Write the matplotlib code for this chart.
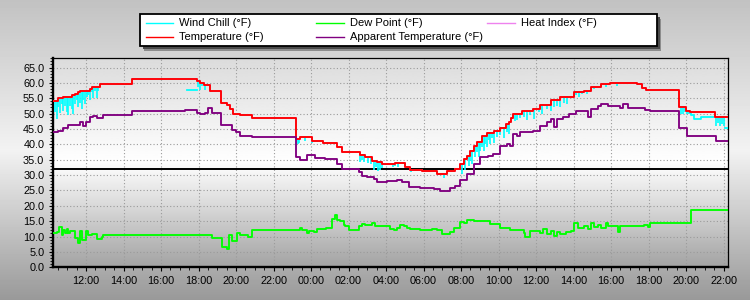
import numpy as np
import matplotlib
matplotlib.use("Agg")
import matplotlib.pyplot as plt
from matplotlib.lines import Line2D
from matplotlib.patches import Rectangle
from matplotlib.ticker import MultipleLocator, FuncFormatter

plt.rcParams['font.family'] = ['Liberation Sans', 'DejaVu Sans']

# time axis: decimal hours since midnight of day one (24+ = next day)
t_start, t_end = 10.25, 46.25

# Temperature (°F), one reading per step
temp_t = [10.25, 10.52, 10.77, 11.24, 11.41, 11.59, 11.68, 12.21, 12.30, 12.75,
          14.47, 17.91, 18.08, 18.30, 18.62, 19.20, 19.51, 19.68, 19.86, 20.22,
          20.84, 23.21, 23.42, 24.04, 24.66, 25.38, 25.64, 26.62, 26.89, 27.25,
          27.51, 27.78, 28.49, 29.02, 29.29, 29.91, 30.71, 31.25, 31.69, 31.96,
          32.14, 32.32, 32.49, 32.67, 32.85, 33.12, 33.38, 33.74, 34.10, 34.37,
          34.53, 34.66, 34.79, 35.26, 35.86, 36.23, 36.77, 37.30, 38.00, 38.53,
          38.91, 39.44, 39.96, 41.39, 41.66, 41.87, 43.61, 44.02, 44.20, 45.53]
temp_v = [54.0, 55.0, 55.3, 55.9, 56.4, 57.0, 57.5, 58.1, 58.8, 59.7,
          61.4, 60.6, 60.0, 59.4, 57.5, 53.5, 52.9, 51.6, 49.9, 49.4,
          48.6, 41.8, 42.5, 41.2, 40.5, 39.0, 37.4, 36.5, 35.8, 34.7,
          34.1, 33.6, 33.8, 32.5, 31.7, 31.2, 30.5, 31.2, 32.0, 33.6,
          35.2, 36.3, 38.0, 39.6, 40.9, 42.8, 43.6, 44.5, 45.2, 46.5,
          47.2, 48.5, 49.9, 51.0, 51.6, 52.9, 54.3, 55.4, 57.0, 57.5,
          58.6, 59.7, 60.0, 59.7, 58.4, 57.8, 52.3, 51.0, 50.6, 48.8]

# Heat index equals the temperature at these temperatures
heat_t = temp_t
heat_v = temp_v

# Apparent temperature (°F)
app_t = [10.25, 10.51, 10.77, 11.04, 11.68, 11.84, 12.00, 12.21, 12.37, 12.59,
         12.91, 14.47, 17.28, 17.91, 18.08, 18.35, 18.51, 18.72, 19.20, 19.79,
         20.00, 20.22, 20.86, 23.21, 23.42, 23.78, 24.22, 24.76, 25.38, 25.64,
         26.53, 26.71, 26.98, 27.33, 27.51, 28.05, 28.58, 28.85, 29.20, 29.83,
         30.54, 30.90, 31.43, 31.70, 31.96, 32.32, 32.67, 33.03, 33.46, 33.72,
         34.10, 34.47, 34.63, 34.79, 35.00, 35.15, 35.86, 36.23, 36.60, 36.77,
         36.93, 37.09, 37.46, 37.73, 38.11, 38.75, 38.91, 39.28, 39.44, 39.82,
         40.50, 40.66, 40.88, 41.83, 42.10, 43.61, 44.06, 45.57]
app_v = [43.9, 44.5, 45.2, 46.3, 47.2, 46.1, 47.4, 48.8, 49.2, 48.6,
         49.6, 50.8, 51.2, 50.3, 50.0, 50.3, 51.8, 50.3, 46.4, 44.7,
         43.9, 42.8, 42.5, 35.8, 34.9, 36.5, 35.6, 35.2, 33.6, 32.0,
         30.9, 29.8, 29.4, 28.7, 27.8, 28.1, 28.4, 27.6, 26.2, 25.8,
         25.4, 24.9, 25.8, 26.5, 28.4, 30.2, 33.6, 35.8, 36.3, 36.9,
         39.6, 40.1, 39.6, 43.4, 42.6, 44.0, 44.5, 46.1, 47.2, 48.3,
         45.6, 48.3, 48.8, 49.9, 51.0, 48.8, 51.6, 52.5, 53.2, 52.5,
         51.8, 53.2, 51.9, 51.3, 50.9, 45.4, 42.6, 41.0]

# Dew point (°F)
dew_t = [10.25, 10.45, 10.57, 10.70, 10.78, 10.87, 10.96, 11.05, 11.15, 11.41,
         11.59, 11.68, 11.77, 12.00, 12.12, 12.30, 12.57, 12.84, 12.92, 18.70,
         19.24, 19.51, 19.60, 19.78, 20.05, 20.22, 20.66, 20.84, 23.42, 23.51,
         23.78, 23.87, 24.14, 24.31, 24.58, 24.81, 25.11, 25.25, 25.38, 25.55,
         25.73, 25.82, 26.00, 26.53, 26.71, 26.89, 27.25, 27.42, 27.51, 28.22,
         28.40, 28.58, 28.76, 28.94, 29.12, 29.29, 29.47, 29.83, 30.45, 30.71,
         30.98, 31.43, 31.60, 31.96, 32.14, 32.32, 32.67, 33.56, 34.10, 34.63,
         35.34, 35.43, 35.70, 36.23, 36.39, 36.60, 36.77, 36.93, 37.14, 37.30,
         37.57, 37.84, 38.00, 38.21, 38.53, 38.75, 38.91, 39.07, 39.28, 39.44,
         39.71, 39.82, 40.35, 40.46, 41.04, 41.74, 41.95, 42.06, 44.24]
dew_v = [11.2, 11.5, 13.1, 10.4, 12.0, 11.0, 12.3, 11.2, 11.8, 9.6,
         8.0, 11.8, 8.9, 11.8, 10.5, 10.8, 9.2, 9.9, 10.4, 9.6,
         6.7, 6.1, 10.4, 8.5, 11.3, 10.6, 10.0, 12.0, 12.9, 12.0,
         11.3, 11.8, 11.5, 12.3, 12.6, 12.7, 15.6, 16.9, 15.4, 15.0,
         13.8, 13.3, 12.0, 13.3, 14.2, 13.8, 14.4, 13.6, 13.3, 12.6,
         12.1, 12.9, 13.9, 13.6, 12.9, 12.3, 12.6, 12.0, 12.3, 12.0,
         10.9, 11.4, 12.7, 14.9, 14.5, 15.4, 15.2, 14.2, 12.7, 12.2,
         11.3, 10.0, 11.7, 11.2, 12.4, 10.8, 11.9, 10.2, 11.4, 10.7,
         11.5, 11.9, 14.5, 12.8, 13.4, 12.5, 14.5, 13.0, 13.8, 12.9,
         14.5, 13.4, 11.6, 13.6, 13.4, 13.9, 13.2, 14.3, 18.6]

# Wind chill: single gusty readings below the temperature
chill_t = [10.34, 10.44, 10.52, 10.61, 10.70, 10.79, 10.88, 10.97, 11.05, 11.14,
           11.24, 11.32, 11.41, 11.50, 11.59, 11.68, 11.77, 11.86, 11.95, 12.04,
           12.12, 12.21, 12.30, 12.39, 12.48, 12.57, 12.66, 17.99, 18.08, 18.17,
           18.35, 23.28, 23.36, 23.68, 24.05, 26.61, 26.72, 26.82, 27.03, 27.19,
           27.35, 27.46, 27.56, 27.67, 27.77, 28.36, 28.46, 28.62, 29.31, 31.07,
           32.05, 32.23, 32.40, 32.49, 32.58, 32.76, 32.85, 32.94, 33.03, 33.12,
           33.21, 33.30, 33.38, 33.47, 33.56, 33.65, 33.74, 33.92, 34.10, 34.28,
           34.45, 34.54, 34.90, 34.99, 35.16, 35.34, 35.52, 35.70, 35.88, 36.15,
           36.33, 36.60, 36.77, 36.94, 37.12, 37.30, 37.48, 37.66, 38.11, 38.28,
           38.46, 38.73, 39.08, 39.71, 40.33, 40.50, 43.72, 43.82, 43.93, 45.62,
           45.72, 45.83, 45.94, 46.04]
chill_v = [50.5, 48.3, 52.0, 50.3, 53.0, 51.0, 52.6, 50.5, 49.4, 52.5,
           51.5, 50.0, 53.0, 54.5, 52.0, 53.5, 51.6, 54.5, 53.2, 55.5,
           56.0, 54.5, 57.0, 55.0, 57.5, 55.0, 57.5, 58.6, 57.8, 59.0,
           57.8, 40.1, 40.5, 41.0, 40.6, 34.3, 34.8, 34.1, 34.0, 33.5,
           31.6, 32.5, 31.4, 31.8, 32.2, 32.5, 32.8, 32.5, 30.9, 29.2,
           30.3, 31.5, 33.0, 34.5, 33.5, 36.0, 37.5, 36.0, 38.0, 39.0,
           38.0, 40.0, 39.0, 41.5, 40.0, 42.0, 40.5, 42.5, 43.0, 42.0,
           44.0, 43.5, 47.5, 48.0, 48.5, 49.0, 48.0, 49.5, 48.3, 50.5,
           50.0, 51.5, 51.0, 52.0, 52.5, 52.0, 53.5, 53.0, 56.0, 55.5,
           56.5, 56.3, 58.0, 58.8, 59.0, 59.5, 50.0, 49.9, 50.5, 46.1,
           47.0, 46.1, 46.5, 46.1]
# Wind chill stretches that stay below the temperature
chill_flat_t = [17.39, 17.92, np.nan, 44.06, 44.24, 44.42, 44.77, 45.53, np.nan, 46.10, 46.25]
chill_flat_v = [57.8, 57.8, np.nan, 50.2, 49.5, 48.3, 49.0, 49.0, np.nan, 45.4, 45.4]

freezing = 32.0

labels = ["Wind Chill (°F)", "Dew Point (°F)", "Heat Index (°F)",
          "Temperature (°F)", "Apparent Temperature (°F)"]
colors = ["#00ffff", "#00ff00", "#ee82ee", "#ff0000", "#800080"]

W, H = 750, 300
fig = plt.figure(figsize=(W / 100, H / 100), dpi=100)

# figure background gradient
bg = fig.add_axes([0, 0, 1, 1], zorder=-10)
rows = np.linspace(0, 1, 300)
bg.imshow(np.interp(rows, [0, 0.5, 1], [0.76, 0.95, 0.60])[:, None], cmap='gray',
          vmin=0, vmax=1, aspect='auto', extent=[0, 1, 0, 1])
bg.axis('off')

ax = fig.add_axes([53.3 / W, 1 - 267.3 / H, (728.3 - 53.3) / W, (267.3 - 58.3) / H])
ymin, ymax = 0, 68
ax.imshow(np.interp(rows, [0, 0.5, 1], [0.86, 1.0, 0.64])[:, None], cmap='gray',
          vmin=0, vmax=1, aspect='auto', extent=[t_start, t_end, ymin, ymax], zorder=0)
ax.set_xlim(t_start, t_end)
ax.set_ylim(ymin, ymax)
ax.set_facecolor('none')


def steps(t, v):
    return np.append(t, t_end), np.append(v, v[-1])


def temp_at(t):
    idx = np.searchsorted(temp_t, t, side='right') - 1
    return np.array(temp_v)[idx]


ax.axhline(freezing, color='black', lw=1.4, zorder=2.5)

# wind chill
ax.vlines(chill_t, chill_v, temp_at(chill_t), color=colors[0], lw=1.2, zorder=3)
ax.step(chill_flat_t, chill_flat_v, where='post', color=colors[0], lw=1.3, zorder=3)
# dew point
ax.step(*steps(dew_t, dew_v), where='post', color=colors[1], lw=1.35, zorder=4)
# heat index
ax.step(*steps(heat_t, heat_v), where='post', color=colors[2], lw=1.35, zorder=5)
# temperature
ax.step(*steps(temp_t, temp_v), where='post', color=colors[3], lw=1.35, zorder=6)
# apparent temperature
ax.step(*steps(app_t, app_v), where='post', color=colors[4], lw=1.35, zorder=7)

ax.xaxis.set_major_locator(MultipleLocator(2))
ax.xaxis.set_minor_locator(MultipleLocator(0.5))
ax.xaxis.set_major_formatter(FuncFormatter(lambda v, p: "%02d:00" % (int(round(v)) % 24)))
ax.yaxis.set_major_locator(MultipleLocator(5))
ax.yaxis.set_minor_locator(MultipleLocator(1))
ax.yaxis.set_major_formatter(FuncFormatter(lambda v, p: "%.1f" % v))

ax.grid(True, which='major', color='#9a9a9a', linestyle=(0, (1, 2)), lw=0.8)
ax.set_axisbelow(True)
ax.tick_params(which='major', length=3, width=0.8, direction='out', labelsize=7.8, pad=3.5)
ax.tick_params(which='minor', length=2, width=0.6, direction='out')

for side in ['left', 'bottom']:
    ax.spines[side].set_linewidth(1.7)
for side in ['top', 'right']:
    ax.spines[side].set_linewidth(0.9)


def fig_rect(x0, y0, x1, y1, **kw):
    return Rectangle((x0 / W, 1 - y1 / H), (x1 - x0) / W, (y1 - y0) / H,
                     transform=fig.transFigure, **kw)


# legend box with drop shadow
lx0, ly0, lx1, ly1 = 139.6, 14.3, 656.7, 46.0
fig.add_artist(fig_rect(lx0 + 4.5, ly0 + 4.5, lx1 + 4.5, ly1 + 4.5, facecolor='#8c8c8c', edgecolor='none'))
fig.add_artist(fig_rect(lx0 + 3, ly0 + 3, lx1 + 3, ly1 + 3, facecolor='#4a4a4a', edgecolor='none'))
fig.add_artist(fig_rect(lx0, ly0, lx1, ly1, facecolor='white', edgecolor='black', lw=1.3))

col_x = [145.5, 316.0, 487.0]
row_y = [23.3, 36.7]
for i, (lab, col) in enumerate(zip(labels, colors)):
    x = col_x[i % 3]
    y = row_y[i // 3]
    fig.add_artist(Line2D([x / W, (x + 27.5) / W], [1 - y / H, 1 - y / H],
                          transform=fig.transFigure, color=col, lw=1.0))
    fig.text((x + 33.7) / W, 1 - y / H, lab, va='center', ha='left', fontsize=8)

fig.savefig("out.png", dpi=100)
